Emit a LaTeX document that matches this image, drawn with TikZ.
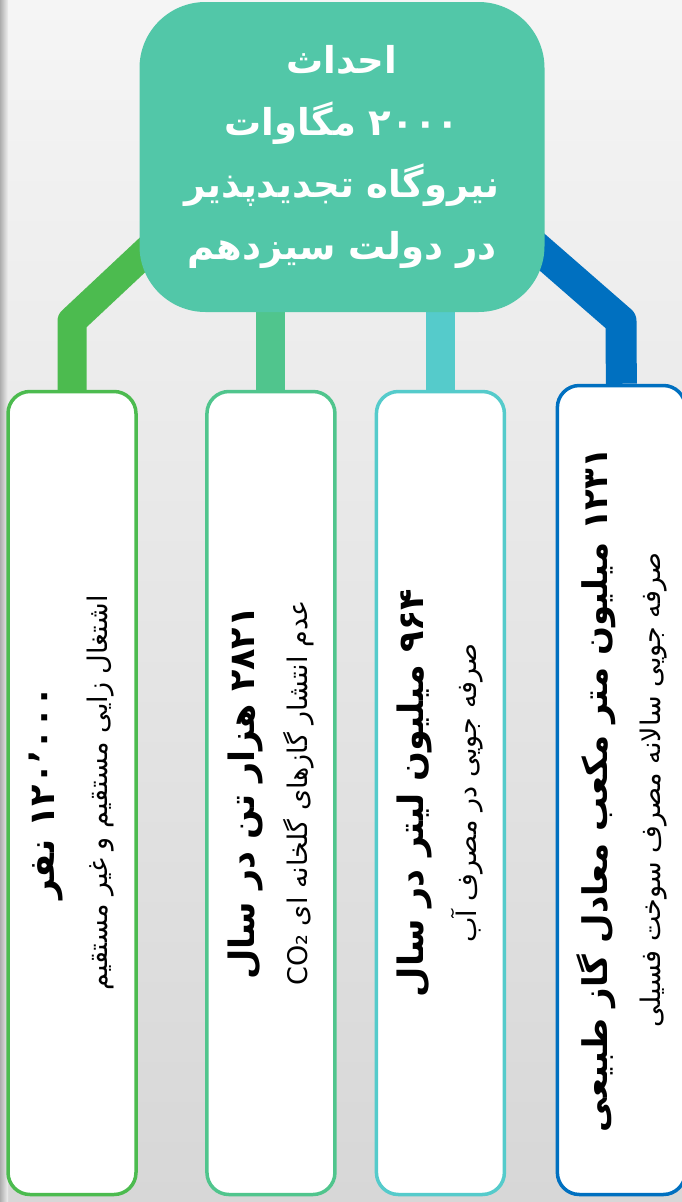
\documentclass[tikz,border=0pt]{standalone}
\usepackage{fontspec}
\newfontfamily\fa[Script=Arabic]{DejaVu Sans}
\TeXXeTstate=1
\usetikzlibrary{backgrounds}

\definecolor{hubc}{HTML}{52C7A8}
\definecolor{jobsc}{HTML}{4CBB4F}
\definecolor{co2c}{HTML}{50C58D}
\definecolor{waterc}{HTML}{55CBCB}
\definecolor{gasc}{HTML}{0070C0}
\definecolor{bgtop}{HTML}{F5F5F5}
\definecolor{bgbot}{HTML}{D7D7D7}

\tikzstyle{hub} = [rectangle, rounded corners=66pt, minimum width=405pt, minimum height=310pt, fill=hubc, text=white, align=center, font=\fa\bfseries\fontsize{37}{62}\selectfont]
\tikzstyle{col} = [rectangle, rounded corners=22pt, minimum width=128pt, minimum height=803pt, fill=white, line width=3.5pt]
\tikzstyle{coltext} = [rotate=90, align=center, font=\fa\fontsize{27}{53}\selectfont]
\tikzstyle{link} = [line width=29pt, line join=round]

\begin{document}
\begin{tikzpicture}[x=1pt, y=-1pt]
  \useasboundingbox (0,0) rectangle (682,1202);
  \clip (0,0) rectangle (682,1202);

  \node (title) [hub] at (342,157) {\beginR احداث\endR\\ \beginR ۲۰۰۰ مگاوات\endR\\ \beginR نیروگاه تجدیدپذیر\endR\\ \beginR در دولت سیزدهم\endR};

  \node (jobs) [col, draw=jobsc] at (72,793) {};
  \node (co2) [col, draw=co2c, right of=jobs, xshift=170.5pt] {};
  \node (water) [col, draw=waterc, right of=co2, xshift=141pt] {};
  \node (gas) [col, draw=gasc, right of=water, xshift=152.5pt, yshift=3pt, minimum height=809pt] {};

  \node (jobstext) [coltext] at (jobs) {{\bfseries\fontsize{35}{40}\selectfont\beginR ۱۲۰٬۰۰۰ نفر\endR}\\ \beginR اشتغال زایی مستقیم و غیر مستقیم\endR};
  \node (co2text) [coltext] at (co2) {{\bfseries\fontsize{35}{40}\selectfont\beginR ۲۸۲۱ هزار تن در سال\endR}\\ \beginR عدم انتشار گازهای گلخانه ای CO₂\endR};
  \node (watertext) [coltext] at (water) {{\bfseries\fontsize{35}{40}\selectfont\beginR ۹۶۴ میلیون لیتر در سال\endR}\\ \beginR صرفه جویی در مصرف آب\endR};
  \node (gastext) [coltext] at (gas) {{\bfseries\fontsize{34}{40}\selectfont\beginR ۱۲۳۱ میلیون متر مکعب معادل گاز طبیعی\endR}\\ \beginR صرفه جویی سالانه مصرف سوخت فسیلی\endR};

  % connectors behind the boxes
  \begin{scope}[on background layer]
    \shade[top color=bgtop, bottom color=bgbot] (0,0) rectangle (682,1202);
    \shade[left color=black!32, right color=black!6] (0,0) rectangle (8,1202);
    \coordinate (jobsfrom) at (200,201);
    \coordinate (jobsbend) at (72,321);
    \coordinate (gasfrom) at (480,198);
    \coordinate (gasbend) at (621,321);
    \draw [link, jobsc] (jobsfrom) -- (jobsbend) -- (jobs.north);
    \draw [link, co2c] (co2.north |- title.center) -- (co2.north);
    \draw [link, waterc] (water.north |- title.center) -- (water.north);
    \draw [link, gasc, line width=31pt] (gasfrom) -- (gasbend) -- (gas.north);
  \end{scope}
\end{tikzpicture}
\end{document}
